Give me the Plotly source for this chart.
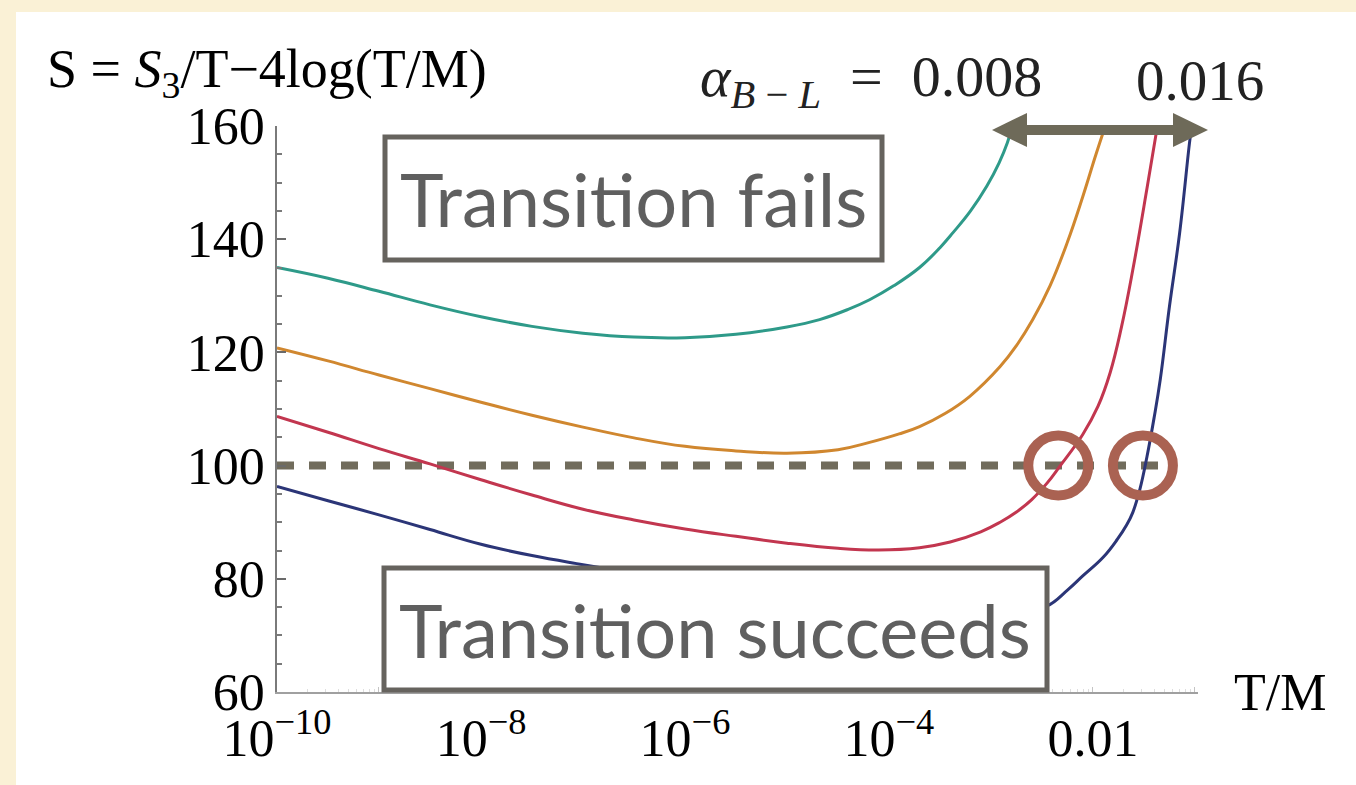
import plotly.graph_objects as go

# Bounce action S = S3/T - 4 log(T/M) versus T/M for four couplings alpha_{B-L}
# (exponents of T/M, and S values)
teal_exp = [-10, -9.5, -9, -8.5, -8, -7.5, -7, -6.5, -6, -5.5, -5, -4.68, -4.4, -4.19,
            -3.95, -3.7, -3.5, -3.37, -3.2, -3.04, -2.92, -2.84, -2.79]
teal_s = [135.0, 133.1, 130.8, 128.4, 126.3, 124.6, 123.4, 122.7, 122.6, 123.2, 124.5, 125.8,
          127.6, 129.3, 131.8, 135.0, 138.5, 141.2, 145.0, 149.4, 153.5, 157.0, 160.0]

orange_exp = [-10, -9.5, -9, -8.5, -8, -7.5, -7, -6.5, -6, -5.5, -5, -4.5, -4.19, -3.9, -3.7,
              -3.45, -3.21, -2.91, -2.75, -2.59, -2.42, -2.25, -2.1, -1.97, -1.86]
orange_s = [120.8, 118.5, 116.0, 113.6, 111.2, 108.9, 106.8, 104.9, 103.4, 102.6, 102.2, 102.8,
            104.1, 105.6, 106.9, 109.2, 112.2, 117.5, 121.2, 125.8, 131.8, 139.5, 147.5, 155.0, 161.0]

red_exp = [-10, -9.5, -9, -8.5, -8, -7.5, -7, -6.5, -6, -5.5, -5, -4.5, -4.1, -3.7, -3.4, -3.1,
           -2.91, -2.75, -2.6, -2.45, -2.32, -2.1, -1.95, -1.83, -1.72, -1.61, -1.47, -1.37]
red_s = [108.7, 105.9, 103.0, 100.3, 97.5, 94.8, 92.3, 90.4, 88.8, 87.5, 86.3, 85.4, 85.1, 85.5,
         86.5, 88.3, 90.0, 91.8, 94.0, 96.9, 100.0, 105.5, 110.5, 116.5, 124.5, 134.5, 149.0, 159.8]

blue_exp = [-10, -9.5, -9, -8.5, -8, -7.5, -7, -6.5, -6, -5, -4, -3.5, -3, -2.7, -2.45, -2.25,
            -2.1, -1.9, -1.76, -1.67, -1.61, -1.54, -1.47, -1.4, -1.34, -1.25, -1.15, -1.05, -1.03]
blue_s = [96.3, 93.8, 91.3, 88.7, 86.1, 84.1, 82.5, 81.0, 79.6, 77.2, 75.2, 74.3, 74.0, 74.4, 75.2,
          78.0, 80.5, 83.8, 87.0, 89.5, 91.7, 95.8, 101.6, 108.5, 115.2, 128.1, 141.1, 157.5, 160.0]

curve_colors = ["#2e9a89", "#d0872f", "#c2364f", "#2b3577"]

# Critical value S = 100 and the two highlighted crossings
s_crit = 100
crit_exp = [-10, -1.28]
cross_exp = [-2.34, -1.51]

x_tick_exp = [-10, -9, -8, -7, -6, -5, -4, -3, -2, -1]
x_tick_text = ["10<sup>−10</sup>", "", "10<sup>−8</sup>", "", "10<sup>−6</sup>", "",
               "10<sup>−4</sup>", "", "0.01", ""]
y_ticks = [60, 80, 100, 120, 140, 160]

W, H = 1356, 785
L, R, T, B = 277, 1198, 126, 692


def px(x):
    return (x - L) / (R - L)


def py(y):
    return (B - y) / (B - T)


def tm(exps):
    return [10.0 ** e for e in exps]


fig = go.Figure()

fig.add_trace(go.Scatter(
    x=tm(crit_exp), y=[s_crit, s_crit], mode="lines",
    line=dict(color="#716c5c", width=8, dash="17px,15px"), hoverinfo="skip"))

for ex, s, c in zip([teal_exp, orange_exp, red_exp, blue_exp],
                    [teal_s, orange_s, red_s, blue_s], curve_colors):
    fig.add_trace(go.Scatter(x=tm(ex), y=s, mode="lines",
                             line=dict(color=c, width=3, shape="spline", smoothing=1.2)))

fig.add_trace(go.Scatter(
    x=tm(cross_exp), y=[s_crit, s_crit], mode="markers",
    marker=dict(symbol="circle-open", size=60, color="#aa6252", line=dict(width=10, color="#aa6252")),
    cliponaxis=False))

shapes = []
# white panel on the cream page
shapes.append(dict(type="rect", xref="paper", yref="paper", layer="below",
                   x0=px(16), x1=px(W + 5), y0=py(12), y1=py(H + 5),
                   fillcolor="white", line=dict(width=0)))
# labelled boxes
box_line = dict(color="#66635e", width=5)
shapes.append(dict(type="rect", xref="paper", yref="paper", layer="above",
                   x0=px(385), x1=px(882), y0=py(260), y1=py(137),
                   fillcolor="white", line=box_line))
shapes.append(dict(type="rect", xref="paper", yref="paper", layer="above",
                   x0=px(384), x1=px(1047), y0=py(690), y1=py(568),
                   fillcolor="white", line=box_line))
# double-headed arrow spanning the coupling range
arrow_c = "#6e6a59"
ay = 130
shapes.append(dict(type="line", xref="paper", yref="paper", layer="above",
                   x0=px(1020), x1=px(1180), y0=py(ay), y1=py(ay),
                   line=dict(color=arrow_c, width=10)))
for tip, base in [(992, 1027), (1208, 1173)]:
    shapes.append(dict(type="path", xref="paper", yref="paper", layer="above",
                       path=f"M {px(tip)} {py(ay)} L {px(base)} {py(ay - 17)} L {px(base)} {py(ay + 17)} Z",
                       fillcolor=arrow_c, line=dict(width=0)))

serif = "Liberation Serif, Times New Roman, serif"
sans = "Lato, Open Sans, sans-serif"
annotations = [
    dict(text="S = <i>S</i><sub>3</sub>/T−4log(T/M)", x=px(45), y=py(72), xanchor="left",
         yanchor="middle", font=dict(family=serif, size=54, color="black")),
    dict(text="T/M", x=px(1232), y=py(692), xanchor="left", yanchor="middle",
         font=dict(family=serif, size=52, color="black")),
    dict(text="<i>α</i><sub><i>B</i> − <i>L</i></sub>  =  0.008", x=px(1044), y=py(80),
         xanchor="right", yanchor="middle", font=dict(family=serif, size=58, color="#222")),
    dict(text="0.016", x=px(1134), y=py(80), xanchor="left", yanchor="middle",
         font=dict(family=serif, size=57, color="#222")),
    dict(text="Transition fails", x=px(633), y=py(198), xanchor="center", yanchor="middle",
         font=dict(family=sans, size=74, color="#5f5f5f")),
    dict(text="Transition succeeds", x=px(715), y=py(629), xanchor="center", yanchor="middle",
         font=dict(family=sans, size=74, color="#5f5f5f")),
]
for a in annotations:
    a.update(xref="paper", yref="paper", showarrow=False)

fig.update_layout(
    width=W, height=H, margin=dict(l=L, r=W - R, t=T, b=H - B, pad=0),
    paper_bgcolor="#faf1d6", plot_bgcolor="white", showlegend=False,
    shapes=shapes, annotations=annotations,
    font=dict(family=serif, color="black"),
)
fig.update_xaxes(
    type="log", range=[-10, -0.97], showgrid=False, zeroline=False,
    showline=True, linecolor="#a0a0a0", linewidth=1.5,
    tickmode="array", tickvals=tm(x_tick_exp), ticktext=x_tick_text,
    ticks="inside", ticklen=5, tickcolor="#c4c4c4", tickwidth=1,
    tickfont=dict(family=serif, size=52, color="black"),
    minor=dict(ticks="inside", ticklen=3, tickcolor="#dedede", dtick="D1"),
)
fig.update_yaxes(
    range=[60, 160], showgrid=False, zeroline=False,
    showline=True, linecolor="#7a7a7a", linewidth=1.5,
    tickmode="array", tickvals=y_ticks,
    ticks="inside", ticklen=9, tickcolor="#6a6a6a", tickwidth=1.5,
    tickfont=dict(family=serif, size=52, color="black"),
    minor=dict(ticks="inside", ticklen=5, tickcolor="#7a7a7a", dtick=5),
)

fig.write_html("out.html")
